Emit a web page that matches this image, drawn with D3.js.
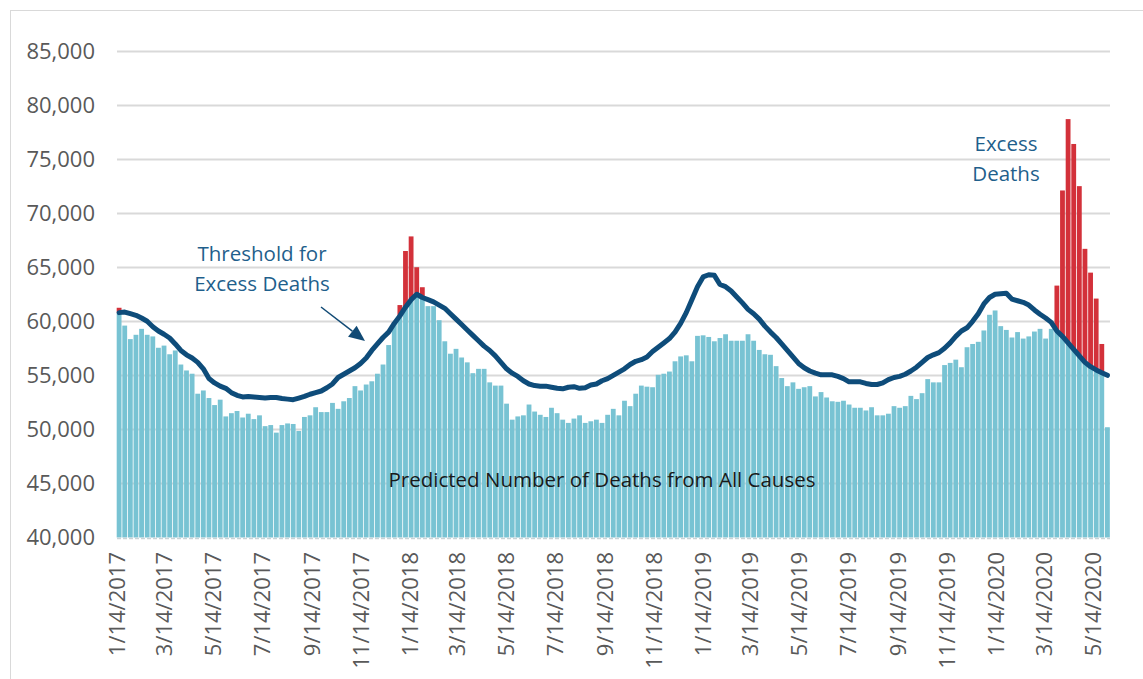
<!DOCTYPE html>
<html>
<meta charset="utf-8">
<style>
  body { margin: 0; background: #fff; }
  text { font-family: "Open Sans", sans-serif; }
</style>
<body>
<script src="https://d3js.org/d3.v7.min.js"></script>
<script>

var width = 1143, height = 679;

// weekly deaths, weeks ending 1/14/2017 .. 5/30/2020
var observed = [
  61250, 59600, 58350, 58750, 59300, 58750, 58600, 57550, 57750, 56950,
  57300, 56000, 55450, 55150, 53300, 53600, 52900, 52250, 52750, 51200,
  51500, 51700, 51100, 51450, 50950, 51300, 50300, 50400, 49700, 50400,
  50550, 50500, 49850, 51150, 51300, 52050, 51600, 51600, 52450, 51900,
  52600, 52900, 54000, 53600, 54150, 54450, 55150, 56000, 57800, 59900,
  61500, 66500, 67850, 65000, 63150, 61400, 61400, 60100, 58150, 57000,
  57450, 56650, 56200, 55200, 55600, 55600, 54350, 54050, 54050, 52380,
  50900, 51200, 51300, 52300, 51650, 51350, 51150, 52000, 51500, 50900,
  50600, 51000, 51300, 50600, 50750, 50900, 50600, 51350, 51900, 51300,
  52650, 52150, 53300, 54050, 53950, 53900, 55050, 55150, 55350, 56300,
  56750, 56850, 56300, 58650, 58700, 58550, 58150, 58450, 58800, 58200,
  58200, 58200, 58800, 58200, 57350, 56950, 56900, 55850, 54750, 54000,
  54350, 53750, 53900, 54000, 53050, 53450, 52950, 52600, 52550, 52650,
  52300, 52000, 52000, 51750, 52050, 51300, 51300, 51450, 52150, 52000,
  52150, 53100, 52800, 53350, 54650, 54350, 54350, 55950, 56150, 56450,
  55750, 57600, 57900, 58100, 59150, 60600, 61000, 59550, 59200, 58500,
  59000, 58400, 58600, 59050, 59300, 58400, 59300, 63300, 72100, 78700,
  76400, 72500, 66700, 64500, 62100, 57900, 50200
];

// threshold for excess deaths, same weeks
var threshold = [
  60800, 60850, 60700, 60550, 60300, 60000, 59500, 59100, 58800, 58450,
  57900, 57300, 56900, 56600, 56200, 55600, 54700, 54300, 54000, 53800,
  53400, 53150, 53000, 53050, 53000, 52950, 52900, 52950, 52950, 52850,
  52800, 52750, 52900, 53050, 53250, 53400, 53550, 53850, 54200, 54800,
  55100, 55400, 55700, 56100, 56600, 57300, 57900, 58500, 59000, 59800,
  60500, 61300, 62000, 62500, 62200, 62000, 61800, 61500, 61200, 60700,
  60200, 59700, 59200, 58700, 58200, 57700, 57300, 56800, 56200, 55600,
  55200, 54900, 54500, 54200, 54050, 54000, 54000, 53900, 53800, 53750,
  53900, 53950, 53800, 53850, 54100, 54200, 54500, 54700, 55000, 55300,
  55600, 56000, 56300, 56450, 56700, 57200, 57600, 58000, 58400, 59000,
  59800, 60800, 62000, 63200, 64100, 64300, 64250, 63400, 63200, 62800,
  62250, 61700, 61100, 60700, 60200, 59550, 59000, 58500, 57900, 57300,
  56700, 56100, 55700, 55400, 55200, 55050, 55050, 55050, 54900, 54700,
  54400, 54400, 54400, 54250, 54150, 54150, 54300, 54600, 54800, 54900,
  55100, 55400, 55750, 56200, 56650, 56900, 57100, 57500, 58000, 58600,
  59100, 59400, 60000, 60700, 61600, 62200, 62500, 62550, 62600, 62050,
  61900, 61750, 61500, 61050, 60650, 60300, 59900, 59100, 58600, 58000,
  57400, 56800, 56200, 55800, 55500, 55250, 55000
];

var tickLabels = [
  "1/14/2017", "3/14/2017", "5/14/2017", "7/14/2017", "9/14/2017", "11/14/2017",
  "1/14/2018", "3/14/2018", "5/14/2018", "7/14/2018", "9/14/2018", "11/14/2018",
  "1/14/2019", "3/14/2019", "5/14/2019", "7/14/2019", "9/14/2019", "11/14/2019",
  "1/14/2020", "3/14/2020", "5/14/2020"
];

var yTicks = [40000, 45000, 50000, 55000, 60000, 65000, 70000, 75000, 80000, 85000];

var day = 864e5;
var firstWeek = Date.UTC(2017, 0, 14);
var weeks = observed.map(function(d, i) { return new Date(firstWeek + i * 7 * day); });
var parseDate = d3.utcParse("%m/%d/%Y");

var x = d3.scaleUtc()
  .domain([weeks[0], weeks[weeks.length - 1]])
  .range([116.7, 1105]);
var y = d3.scaleLinear().domain([40000, 85000]).range([537.5, 51]);

var step = x(new Date(firstWeek + 7 * day)) - x(weeks[0]);
var barW = step - 0.8;

var svg = d3.select("body").append("svg")
  .attr("width", width)
  .attr("height", height);

// outer frame
svg.append("rect")
  .attr("x", 10.5).attr("y", 10.5)
  .attr("width", 1145).attr("height", 690)
  .attr("fill", "none")
  .attr("stroke", "#d9d9d9");

// gridlines
svg.append("g").selectAll("line")
  .data(yTicks.slice(1))
  .enter().append("line")
  .attr("x1", 117).attr("x2", 1110)
  .attr("y1", function(d) { return Math.round(y(d)) + 0.5; })
  .attr("y2", function(d) { return Math.round(y(d)) + 0.5; })
  .attr("stroke", "#d9d9d9")
  .attr("stroke-width", 2);

// y labels
svg.append("g").selectAll("text")
  .data(yTicks)
  .enter().append("text")
  .attr("x", 95)
  .attr("y", function(d) { return y(d); })
  .attr("dy", "0.36em")
  .attr("text-anchor", "end")
  .style("font-size", "22px")
  .style("fill", "#595959")
  .text(d3.format(","));

// bars: blue up to threshold, red for the excess
var bars = svg.append("g");
bars.selectAll("rect.base")
  .data(observed)
  .enter().append("rect")
  .attr("class", "base")
  .attr("x", function(d, i) { return x(weeks[i]); })
  .attr("width", barW)
  .attr("y", function(d, i) { return y(Math.min(d, threshold[i])); })
  .attr("height", function(d, i) { return y(40000) - y(Math.min(d, threshold[i])); })
  .attr("fill", "#78c3d3");

bars.selectAll("rect.excess")
  .data(observed)
  .enter().append("rect")
  .attr("class", "excess")
  .attr("x", function(d, i) { return x(weeks[i]); })
  .attr("width", barW)
  .attr("y", function(d) { return y(d); })
  .attr("height", function(d, i) { return Math.max(0, y(threshold[i]) - y(d)); })
  .attr("fill", "#d3313a");

// baseline
svg.append("line")
  .attr("x1", 117).attr("x2", 1110)
  .attr("y1", 538.5).attr("y2", 538.5)
  .attr("stroke", "#c9d3d6")
  .attr("stroke-width", 1.5)
  .attr("stroke-dasharray", "4,2");

// threshold line
var line = d3.line()
  .x(function(d, i) { return x(weeks[i]) + barW / 2; })
  .y(function(d) { return y(d); });

svg.append("path")
  .datum(threshold)
  .attr("d", line)
  .attr("fill", "none")
  .attr("stroke", "#0e4c7a")
  .attr("stroke-width", 5)
  .attr("stroke-linejoin", "round")
  .attr("stroke-linecap", "round");

// x axis labels
var xAxis = d3.axisBottom(x)
  .tickValues(tickLabels.map(parseDate))
  .tickFormat(d3.utcFormat("%-m/%-d/%Y"))
  .tickSize(0);

var gx = svg.append("g")
  .attr("transform", "translate(0,538)")
  .call(xAxis);
gx.select(".domain").remove();
gx.selectAll("text")
  .attr("transform", "rotate(-90)")
  .attr("x", -14)
  .attr("y", 0)
  .attr("dy", "0.36em")
  .style("text-anchor", "end")
  .style("font-size", "22px")
  .style("font-family", "Open Sans, sans-serif")
  .style("fill", "#595959");

// annotations
var noteColor = "#1f5f8c";
function note(lines, cx, cy, color) {
  var t = svg.append("text")
    .attr("text-anchor", "middle")
    .style("font-size", "20.5px")
    .style("fill", color);
  lines.forEach(function(s, k) {
    t.append("tspan").attr("x", cx).attr("y", cy + k * 30).text(s);
  });
}
note(["Threshold for", "Excess Deaths"], 262, 261, noteColor);
note(["Excess", "Deaths"], 1006, 151, noteColor);
note(["Predicted Number of Deaths from All Causes"], 602, 487, "#1a1a1a");

// arrow
var a0 = [321, 307], a1 = [365, 341];
var ang = Math.atan2(a1[1] - a0[1], a1[0] - a0[0]);
var hl = 16, hw = 7;
var bx = a1[0] - hl * Math.cos(ang), by = a1[1] - hl * Math.sin(ang);
svg.append("line")
  .attr("x1", a0[0]).attr("y1", a0[1])
  .attr("x2", bx).attr("y2", by)
  .attr("stroke", "#114a75")
  .attr("stroke-width", 1.5);
svg.append("path")
  .attr("d", "M" + a1[0] + "," + a1[1] +
    "L" + (bx + hw * Math.sin(ang)) + "," + (by - hw * Math.cos(ang)) +
    "L" + (bx - hw * Math.sin(ang)) + "," + (by + hw * Math.cos(ang)) + "Z")
  .attr("fill", "#114a75");

</script>
</body>
</html>
